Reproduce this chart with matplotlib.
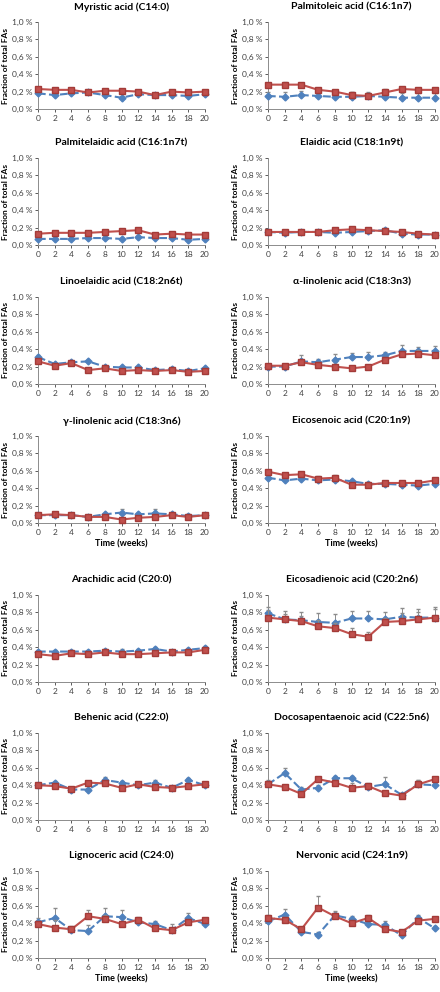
import matplotlib.pyplot as plt
from matplotlib.ticker import FuncFormatter

weeks = [0, 2, 4, 6, 8, 10, 12, 14, 16, 18, 20]

titles = [
    "Myristic acid (C14:0)", "Palmitoleic acid (C16:1n7)",
    "Palmitelaidic acid (C16:1n7t)", "Elaidic acid (C18:1n9t)",
    "Linoelaidic acid (C18:2n6t)", "\u03b1-linolenic acid (C18:3n3)",
    "\u03b3-linolenic acid (C18:3n6)", "Eicosenoic acid (C20:1n9)",
    "Arachidic acid (C20:0)", "Eicosadienoic acid (C20:2n6)",
    "Behenic acid (C22:0)", "Docosapentaenoic acid (C22:5n6)",
    "Lignoceric acid (C24:0)", "Nervonic acid (C24:1n9)",
]

# fraction of total FAs, in %
blue = [
    [.18, .16, .18, .19, .16, .13, .17, .16, .16, .15, .17],
    [.15, .14, .16, .15, .14, .14, .15, .14, .13, .13, .13],
    [.07, .07, .07, .08, .08, .07, .09, .08, .08, .06, .07],
    [.15, .14, .15, .15, .14, .15, .16, .17, .13, .12, .12],
    [.31, .23, .25, .26, .20, .19, .19, .16, .17, .15, .18],
    [.20, .20, .26, .25, .28, .31, .31, .33, .38, .38, .38],
    [.09, .09, .09, .07, .10, .12, .10, .11, .10, .08, .09],
    [.52, .49, .51, .49, .50, .48, .45, .45, .44, .43, .45],
    [.35, .35, .35, .35, .36, .35, .36, .38, .35, .37, .39],
    [.79, .72, .71, .69, .68, .73, .73, .72, .75, .74, .74],
    [.40, .43, .35, .35, .46, .43, .40, .43, .37, .46, .40],
    [.41, .54, .35, .37, .48, .48, .38, .41, .29, .41, .40],
    [.41, .46, .32, .31, .48, .47, .41, .39, .32, .46, .39],
    [.42, .50, .30, .27, .49, .45, .39, .38, .26, .46, .34],
]
red = [
    [.23, .22, .22, .19, .21, .21, .20, .16, .20, .19, .20],
    [.28, .28, .28, .22, .20, .16, .15, .19, .23, .22, .22],
    [.13, .14, .14, .14, .15, .16, .17, .12, .13, .12, .12],
    [.15, .15, .15, .15, .17, .18, .17, .16, .15, .13, .12],
    [.26, .21, .24, .16, .18, .15, .16, .15, .16, .14, .15],
    [.21, .21, .25, .22, .20, .18, .20, .28, .34, .35, .33],
    [.09, .10, .09, .07, .07, .04, .06, .07, .09, .07, .09],
    [.59, .55, .56, .51, .52, .44, .44, .46, .46, .46, .49],
    [.32, .30, .33, .32, .34, .32, .32, .33, .34, .34, .37],
    [.74, .72, .70, .64, .62, .55, .52, .69, .70, .72, .74],
    [.40, .39, .36, .43, .42, .37, .41, .38, .37, .39, .41],
    [.41, .38, .30, .47, .43, .37, .39, .31, .28, .41, .47],
    [.39, .35, .33, .48, .45, .39, .44, .34, .32, .41, .44],
    [.46, .44, .33, .58, .48, .40, .46, .33, .30, .43, .45],
]
blue_err = [
    [.02, .02, .02, .01, .02, .02, .02, .02, .02, .02, .02],
    [.05, .06, .05, .06, .05, .05, .04, .04, .05, .05, .05],
    [.01, .01, .01, .01, .01, .01, .01, .01, .01, .01, .01],
    [.01, .02, .02, .01, .02, .03, .02, .02, .02, .02, .01],
    [.02, .01, .02, .02, .01, .02, .01, .01, .02, .01, .01],
    [.01, .02, .07, .04, .06, .05, .06, .04, .07, .05, .06],
    [.01, .01, .01, .01, .02, .04, .02, .05, .02, .02, .01],
    [.02, .03, .04, .03, .03, .02, .02, .02, .02, .02, .02],
    [.02, .02, .02, .02, .02, .03, .02, .02, .02, .02, .02],
    [.07, .10, .09, .10, .10, .09, .09, .08, .10, .10, .12],
    [.02, .02, .02, .02, .03, .02, .02, .03, .02, .02, .02],
    [.05, .06, .03, .03, .03, .03, .03, .08, .02, .05, .03],
    [.05, .11, .05, .07, .09, .08, .05, .03, .07, .06, .04],
    [.04, .06, .03, .03, .03, .03, .03, .04, .03, .03, .03],
]
red_err = [
    [.02, .02, .02, .02, .02, .02, .02, .02, .02, .02, .02],
    [.02, .03, .02, .02, .02, .03, .02, .04, .02, .02, .02],
    [.01, .01, .01, .01, .01, .01, .01, .01, .01, .01, .01],
    [.02, .02, .02, .02, .02, .03, .03, .02, .02, .02, .01],
    [.02, .02, .02, .02, .02, .02, .02, .02, .02, .02, .02],
    [.02, .02, .03, .03, .03, .02, .02, .03, .03, .04, .03],
    [.02, .02, .02, .02, .02, .02, .02, .02, .02, .02, .02],
    [.02, .02, .02, .03, .03, .02, .02, .02, .02, .02, .02],
    [.02, .02, .02, .02, .03, .04, .02, .02, .02, .02, .02],
    [.09, .06, .06, .07, .06, .07, .06, .04, .09, .08, .10],
    [.02, .02, .02, .02, .02, .02, .02, .02, .02, .02, .02],
    [.03, .02, .02, .02, .03, .05, .04, .02, .03, .05, .03],
    [.03, .09, .03, .07, .05, .02, .03, .03, .03, .03, .02],
    [.03, .03, .02, .13, .06, .03, .03, .04, .02, .03, .02],
]

plt.rcParams['font.family'] = ['Lato', 'DejaVu Sans']

W, H = 440, 992
fig = plt.figure(figsize=(W / 100, H / 100), dpi=100)

col_x = [38, 268]
row_top = [22, 158, 297, 436, 595, 733, 871]
aw, ah = 167, 87

pct = FuncFormatter(lambda v, p: f"{v:.1f} %".replace('.', ','))

for i, title in enumerate(titles):
    r, c = divmod(i, 2)
    x0, y0 = col_x[c], row_top[r]
    ax = fig.add_axes([x0 / W, 1 - (y0 + ah) / H, aw / W, ah / H])
    ax.errorbar(weeks, blue[i], yerr=[[0] * 11, blue_err[i]], color='#4f81bd',
                ls='--', lw=1.5, marker='D', ms=3.5, ecolor='#8c8c8c', elinewidth=0.7,
                capsize=1.5, zorder=3)
    ax.errorbar(weeks, red[i], yerr=[[0] * 11, red_err[i]], color='#c0504d',
                ls='-', lw=1.5, marker='s', ms=4.5, mec='#a33b38', ecolor='#8c8c8c',
                elinewidth=0.7, capsize=1.5, zorder=4)
    ax.set_xlim(0, 20)
    ax.set_ylim(0, 1.0)
    ax.set_xticks(weeks)
    ax.set_yticks([0, .2, .4, .6, .8, 1.0])
    ax.yaxis.set_major_formatter(pct)
    ax.tick_params(labelsize=6, colors='#404040', length=2, width=0.6, pad=2)
    for s in ('top', 'right'):
        ax.spines[s].set_visible(False)
    for s in ('left', 'bottom'):
        ax.spines[s].set_color('#8c8c8c')
        ax.spines[s].set_linewidth(0.7)
    ax.set_title(title, fontsize=7.5, fontweight='bold', pad=9)
    ax.set_ylabel("Fraction of total FAs", fontsize=6, fontweight='bold', labelpad=2)
    if r in (3, 6):
        ax.set_xlabel("Time (weeks)", fontsize=6.5, fontweight='bold', labelpad=3)
    for a in ax.get_children():
        a.set_clip_on(False)

fig.savefig("out.png", dpi=100)
